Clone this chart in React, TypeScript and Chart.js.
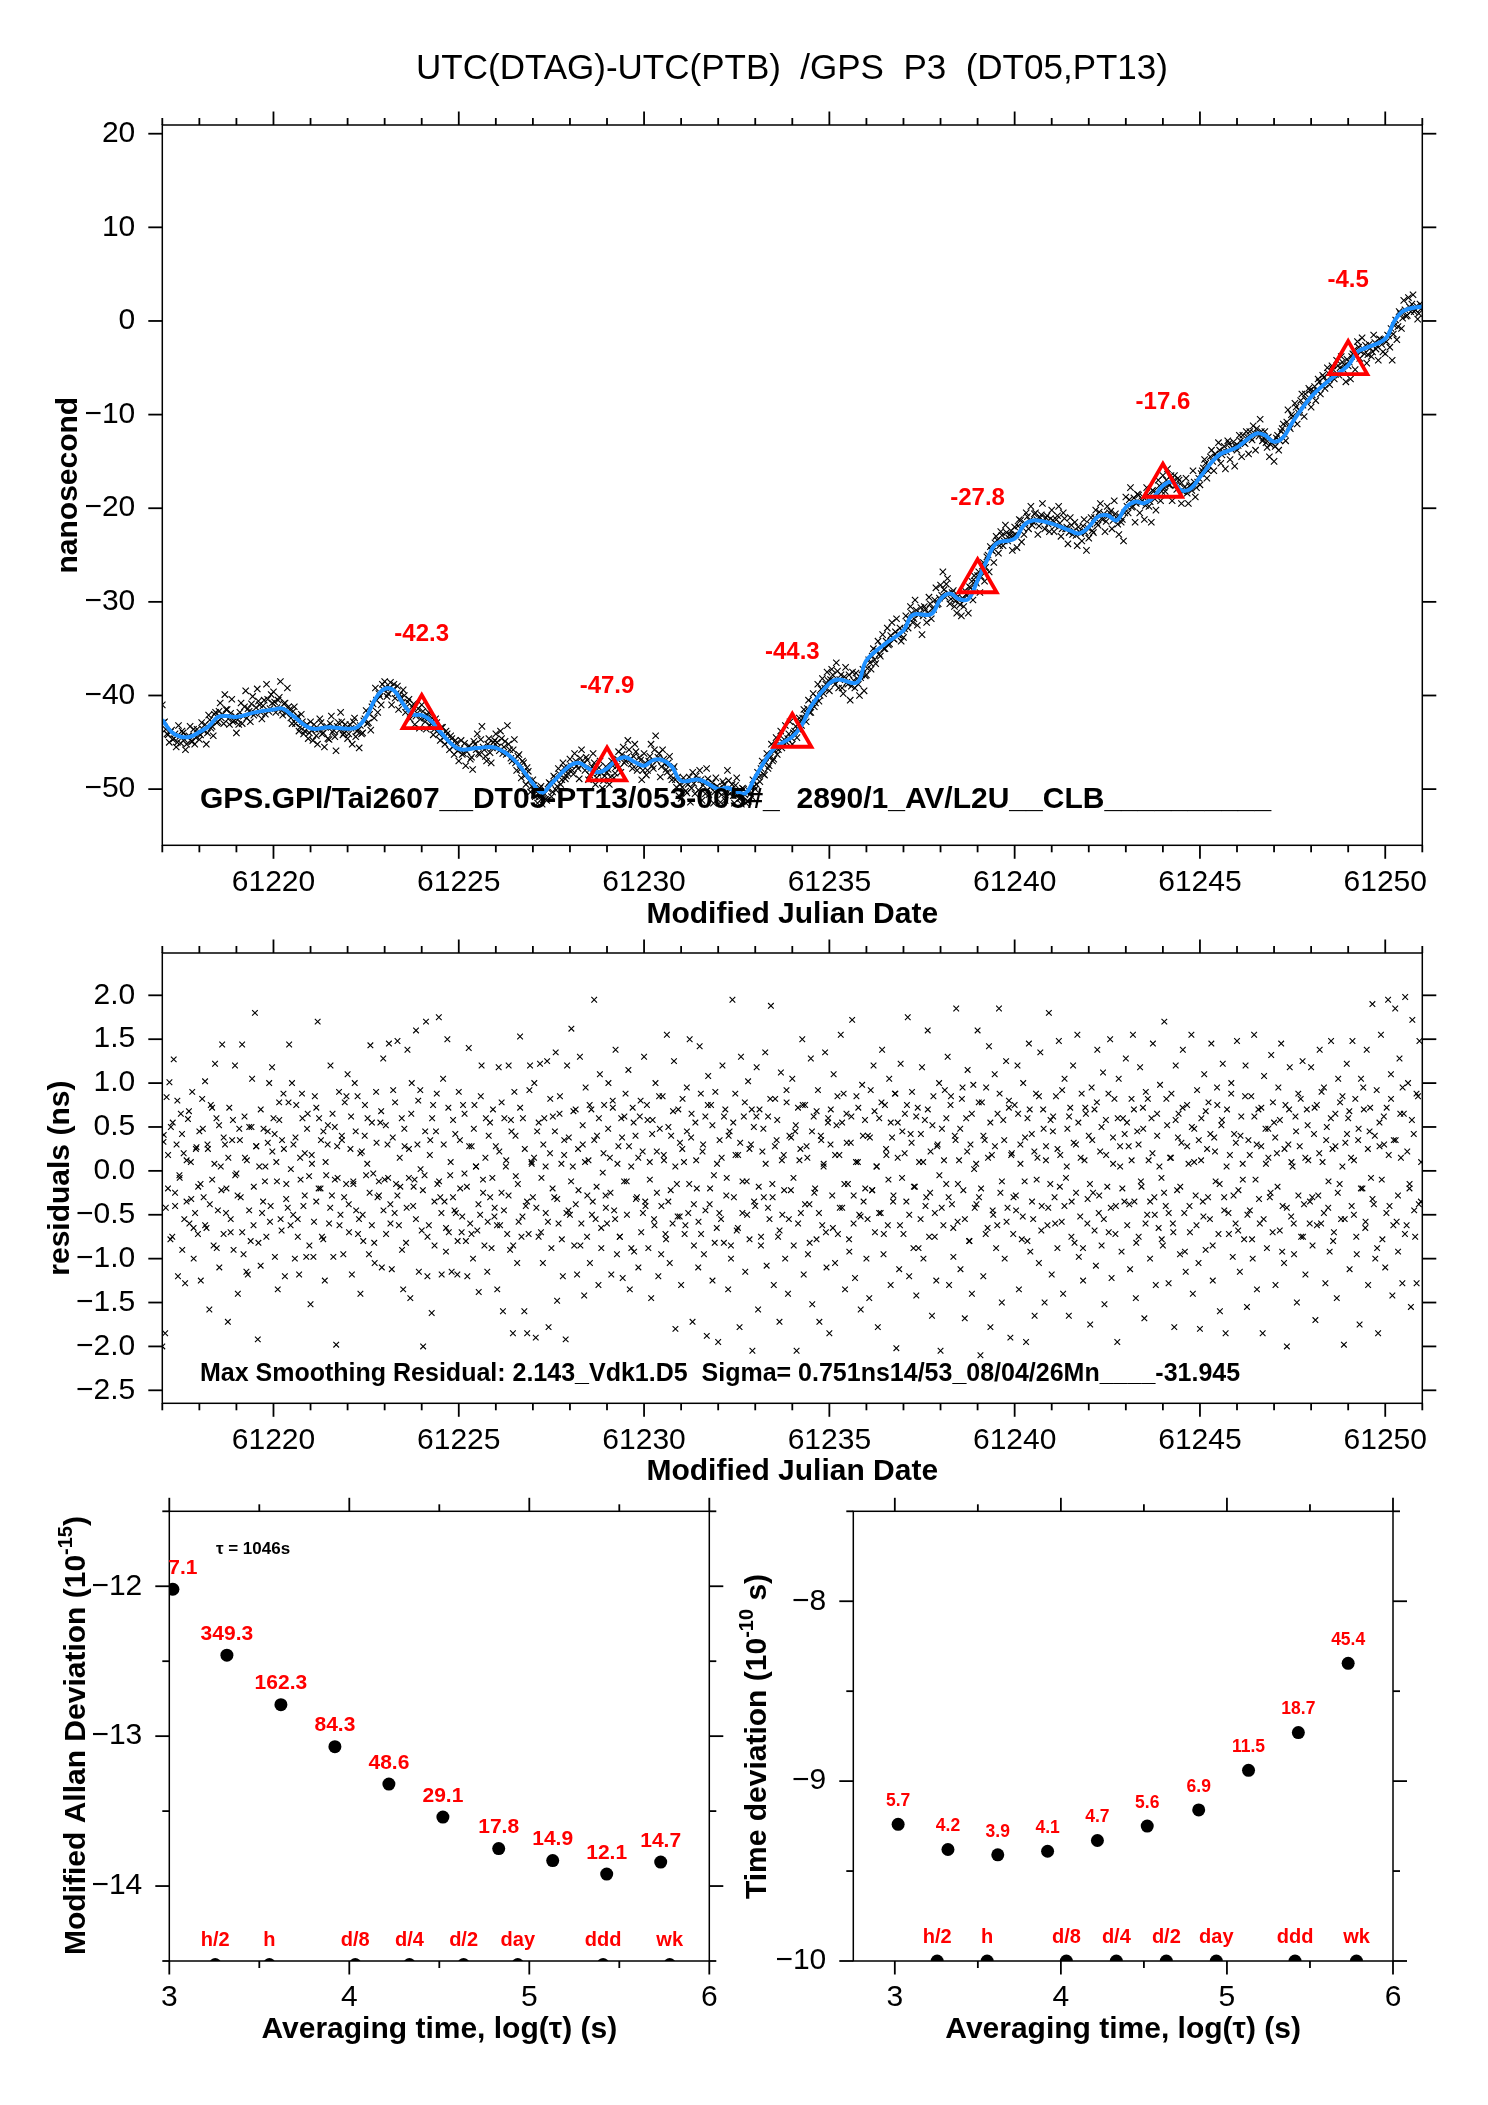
import React, { useEffect, useRef } from "react";
import { Chart, registerables } from "chart.js";
Chart.register(...registerables);

const FONT = '"Liberation Sans", Arial, sans-serif';
const RED = "#ff0000";
const BLUE = "#1e90ff";

// ---------- data ----------
const firstMjd = 61217;
const mjdMajor = [61220, 61225, 61230, 61235, 61240, 61245, 61250];
const mjdMinor = [61217, 61218, 61219, 61221, 61222, 61223, 61224, 61226, 61227, 61228, 61229, 61231, 61232, 61233, 61234, 61236, 61237, 61238, 61239, 61241, 61242, 61243, 61244, 61246, 61247, 61248, 61249, 61251];
const offsetTicks = [20, 10, 0, -10, -20, -30, -40, -50];
const residualTicks = [2, 1.5, 1, 0.5, 0, -0.5, -1, -1.5, -2, -2.5];

const smoothDay = [0, .25, .5, .75, 1, 1.25, 1.5, 1.75, 2, 2.5, 3, 3.25, 3.5, 4, 4.5, 5, 5.25, 5.5, 5.75, 6, 6.25, 6.5, 6.75, 7, 7.25, 7.5, 8, 8.5, 9, 9.5, 10, 10.25, 10.5, 11, 11.25, 11.5, 11.75, 12, 12.25, 12.5, 12.75, 13, 13.25, 13.5, 13.75, 14, 14.5, 15, 15.25, 15.5, 15.75, 16, 16.5, 17, 17.25, 17.5, 18, 18.25, 18.75, 19, 19.5, 20, 20.25, 20.75, 21, 21.25, 21.5, 21.75, 22, 22.25, 22.5, 23, 23.25, 23.5, 24, 24.5, 24.75, 25, 25.25, 25.5, 25.75, 26, 26.25, 26.5, 26.75, 27, 27.25, 27.5, 27.75, 28, 28.5, 29, 29.5, 29.75, 30, 30.25, 30.5, 31, 31.5, 32, 32.25, 32.5, 33, 33.25, 33.5, 34];
const smoothNs = [-42.6, -43.9, -44.4, -44.4, -43.9, -43.3, -42.3, -42.2, -42.3, -41.8, -41.5, -41.4, -42.1, -43.5, -43.4, -43.55, -43.4, -42.3, -40.35, -39.3, -39.45, -40.9, -42, -42.1, -42.7, -43.9, -45.7, -45.6, -45.6, -46.9, -49.4, -50.4, -49.4, -47.5, -47.2, -47.8, -48.2, -47.8, -46.9, -46.6, -47.1, -47.5, -46.9, -46.9, -47.6, -49.1, -49, -50, -49.85, -50.3, -50.4, -48.7, -45.7, -44.4, -43.2, -41.2, -38.7, -38.3, -38.6, -36.25, -34.5, -33.05, -31.4, -31.3, -29.7, -29.1, -29.7, -29.7, -27.7, -25.6, -23.8, -23.25, -21.8, -21.3, -21.65, -22.4, -22.7, -22, -20.9, -20.75, -21.3, -19.9, -19.3, -19.45, -18.8, -17.6, -17.2, -18.1, -17.9, -16.7, -14.35, -13.5, -12.05, -12.2, -12.9, -12.4, -10.8, -8.1, -6.3, -4.75, -3.3, -2.85, -1.9, 0, 1.1, 1.55];

const triangleMjd = [61224, 61229, 61234, 61239, 61244, 61249];
const triangleNs = [-42.3, -47.9, -44.3, -27.8, -17.6, -4.5];

// raw offsets in tenths of a ns, one row per day
const rawTenthNs = [
  [-410, -428, -441, -450, -437, -446, -455, -432, -451, -440, -458, -444, -433, -449, -452, -436],
  [-447, -429, -438, -452, -421, -435, -443, -418, -428, -408, -420, -399, -415, -431, -404, -427],
  [-440, -431, -408, -422, -395, -414, -428, -401, -419, -393, -410, -425, -405, -388, -417, -399],
  [-396, -418, -405, -385, -421, -408, -392, -415, -430, -412, -425, -438, -420, -441, -432, -446],
  [-428, -448, -436, -452, -425, -441, -455, -433, -447, -422, -437, -459, -429, -418, -442, -431],
  [-446, -431, -452, -424, -438, -456, -441, -427, -416, -429, -437, -409, -392, -418, -401, -388],
  [-385, -401, -392, -410, -388, -398, -415, -402, -394, -418, -407, -425, -412, -431, -419, -435],
  [-410, -424, -436, -418, -430, -442, -425, -437, -448, -434, -452, -441, -458, -446, -463, -451],
  [-470, -448, -462, -475, -455, -468, -479, -452, -441, -463, -433, -458, -470, -446, -472, -450],
  [-441, -455, -438, -462, -449, -432, -458, -470, -447, -480, -463, -488, -472, -495, -481, -503],
  [-490, -508, -515, -499, -516, -505, -512, -493, -508, -486, -501, -478, -495, -472, -489, -483],
  [-468, -480, -462, -475, -489, -458, -472, -466, -490, -478, -462, -495, -483, -470, -499, -486],
  [-482, -495, -470, -488, -476, -460, -482, -455, -470, -448, -468, -478, -452, -480, -466, -490],
  [-462, -485, -470, -452, -478, -443, -466, -487, -458, -473, -482, -465, -490, -476, -498, -507],
  [-510, -488, -502, -495, -514, -482, -505, -490, -480, -512, -493, -478, -506, -497, -515, -488],
  [-503, -514, -492, -512, -480, -505, -495, -515, -488, -510, -516, -500, -515, -513, -505, -490],
  [-500, -482, -492, -470, -485, -462, -475, -452, -468, -445, -458, -438, -450, -432, -446, -428],
  [-452, -438, -445, -424, -432, -415, -428, -405, -418, -398, -408, -388, -400, -382, -392, -375],
  [-395, -372, -385, -365, -392, -378, -398, -370, -388, -405, -375, -392, -382, -400, -378, -395],
  [-378, -362, -372, -350, -366, -342, -358, -335, -350, -328, -345, -322, -340, -318, -335, -342],
  [-338, -315, -328, -305, -322, -298, -325, -312, -335, -305, -322, -295, -318, -308, -285, -302],
  [-282, -268, -295, -275, -302, -290, -305, -312, -298, -315, -305, -292, -312, -285, -298, -278],
  [-272, -290, -262, -278, -252, -268, -245, -258, -230, -248, -225, -240, -218, -235, -228, -245],
  [-220, -242, -212, -236, -228, -205, -222, -198, -215, -205, -228, -210, -195, -222, -208, -225],
  [-202, -225, -212, -198, -230, -205, -222, -238, -210, -228, -215, -240, -225, -235, -212, -245],
  [-232, -210, -226, -202, -218, -195, -212, -225, -198, -205, -222, -192, -210, -228, -215, -235],
  [-188, -205, -178, -198, -215, -185, -205, -192, -212, -178, -198, -215, -182, -202, -170, -192],
  [-165, -182, -158, -175, -192, -165, -180, -170, -195, -182, -168, -195, -175, -160, -188, -172],
  [-175, -160, -148, -168, -155, -138, -160, -146, -130, -152, -140, -158, -128, -148, -135, -155],
  [-138, -122, -145, -130, -118, -142, -125, -112, -138, -120, -105, -128, -118, -135, -145, -130],
  [-150, -125, -138, -118, -110, -128, -95, -115, -102, -88, -110, -95, -78, -102, -85, -72],
  [-92, -75, -85, -62, -78, -58, -72, -50, -68, -48, -62, -42, -58, -38, -52, -65],
  [-48, -62, -35, -52, -22, -40, -18, -35, -45, -25, -38, -15, -30, -42, -20, -33],
  [-35, -15, -28, -42, -5, -20, 10, -8, 22, 5, 25, 10, 28, 12, 2, 18],
];
const rawTenthNsCore = [
  [-429, -436, -442, -439, -447, -441, -450, -444, -438, -447, -452, -443, -449, -436, -445, -440],
  [-442, -436, -431, -440, -426, -433, -420, -429, -417, -424, -430, -415, -425, -419, -428, -422],
  [-426, -418, -430, -412, -424, -417, -409, -421, -413, -406, -418, -411, -420, -404, -414, -408],
  [-407, -413, -402, -416, -409, -419, -412, -424, -417, -430, -422, -434, -428, -438, -431, -440],
  [-437, -431, -443, -436, -429, -440, -434, -446, -430, -439, -444, -433, -437, -428, -440, -435],
  [-441, -435, -428, -444, -437, -432, -440, -425, -430, -420, -412, -424, -405, -398, -410, -394],
  [-392, -398, -386, -394, -403, -390, -399, -408, -400, -412, -404, -418, -409, -422, -414, -425],
  [-417, -428, -421, -432, -424, -436, -429, -441, -434, -445, -438, -449, -443, -455, -448, -459],
  [-457, -463, -451, -460, -454, -466, -449, -458, -462, -447, -455, -465, -452, -461, -456, -448],
  [-450, -459, -446, -455, -463, -452, -467, -458, -472, -465, -479, -470, -486, -477, -491, -497],
  [-496, -503, -509, -497, -506, -511, -500, -494, -503, -488, -497, -484, -490, -477, -486, -479],
  [-475, -484, -470, -478, -467, -474, -480, -469, -485, -476, -472, -488, -477, -483, -491, -476],
  [-479, -487, -475, -483, -468, -477, -463, -472, -466, -458, -473, -465, -460, -475, -469, -480],
  [-472, -480, -465, -475, -458, -470, -462, -476, -468, -479, -472, -486, -478, -490, -487, -495],
  [-498, -492, -504, -487, -499, -494, -486, -501, -490, -496, -505, -489, -498, -493, -503, -497],
  [-499, -506, -495, -503, -491, -500, -507, -496, -504, -510, -499, -506, -513, -502, -508, -497],
  [-495, -487, -478, -484, -472, -478, -466, -470, -459, -463, -452, -456, -447, -450, -441, -445],
  [-440, -433, -436, -428, -424, -420, -414, -418, -408, -412, -402, -406, -393, -398, -388, -384],
  [-383, -378, -388, -374, -383, -392, -380, -386, -378, -390, -384, -376, -388, -381, -372, -379],
  [-371, -365, -358, -362, -352, -356, -347, -350, -342, -346, -336, -339, -332, -335, -328, -331],
  [-329, -322, -318, -312, -318, -309, -314, -306, -315, -308, -312, -302, -307, -298, -303, -296],
  [-293, -287, -281, -291, -297, -288, -299, -294, -303, -296, -288, -293, -284, -278, -272, -280],
  [-268, -273, -258, -263, -250, -241, -246, -237, -234, -240, -229, -235, -226, -232, -224, -229],
  [-228, -219, -213, -221, -216, -209, -213, -218, -206, -212, -219, -207, -214, -210, -217, -211],
  [-213, -219, -208, -216, -222, -211, -220, -226, -218, -224, -229, -220, -227, -219, -226, -221],
  [-217, -224, -210, -216, -204, -211, -206, -214, -208, -203, -213, -206, -217, -209, -212, -205],
  [-198, -191, -199, -189, -195, -186, -194, -188, -197, -186, -193, -181, -190, -184, -176, -182],
  [-178, -170, -175, -165, -171, -176, -168, -174, -182, -177, -184, -176, -181, -172, -178, -168],
  [-163, -157, -152, -160, -145, -150, -142, -146, -138, -143, -134, -140, -131, -137, -129, -134],
  [-133, -128, -122, -131, -124, -118, -127, -120, -115, -123, -118, -125, -130, -124, -132, -128],
  [-134, -122, -128, -115, -121, -108, -113, -100, -106, -92, -98, -85, -90, -78, -84, -74],
  [-79, -70, -74, -65, -69, -60, -64, -56, -60, -52, -57, -48, -50, -44, -47, -41],
  [-44, -38, -31, -37, -28, -33, -30, -26, -36, -29, -33, -23, -27, -19, -25, -20],
  [-22, -16, -8, -14, 1, -6, 8, 3, 12, 6, 15, 18, 10, 16, 8, 13],
];

// residuals in hundredths of a ns, one row per day
const residualCentiNs = [
  [-200, 41, -185, 84, -20, 101, 50, -75, 127, -40, 30, -120, -5, 65, -90, 20, -128, -35, 59, -60, 10, 90, -100, -48, 27, -72],
  [45, -125, 82, -30, 102, -65, 25, -158, 75, -10, -85, 122, 60, -45, -110, 5, 144, -72, 30, -20, -172, 72, -55, 35, -90, 120],
  [-3, -140, 48, -30, 144, -95, 15, -115, -118, 50, -80, 105, -62, 180, 28, -192, 5, -108, -48, 48, -12, -75, 32, 100, -40, 118],
  [60, -98, 10, -135, 78, -55, 35, 88, -120, -15, -42, 144, -62, 100, 30, -100, 75, -55, -118, -10, 88, -40, 20, -98, 65, -6],
  [-152, 8, -98, 85, -35, 170, 60, -20, -75, 45, -125, -5, 30, -60, 120, -28, -98, 50, -198, -8, 90, -50, 35, -95, 78, -15],
  [110, -70, 25, -118, -12, 100, -45, 85, -55, -140, 22, -80, 40, -5, 60, -95, 143, -62, -3, -105, 90, -30, -28, 55, -110, 128],
  [-10, -72, 30, 145, -38, -112, 92, -48, -15, 148, -62, -18, 60, -135, 28, -82, 138, -8, -145, 100, -40, -10, 160, 30, -115, 92],
  [-68, -200, -5, 170, -120, -62, 35, -162, 75, -85, 45, -15, 175, -30, -118, 105, -35, -92, 150, -70, -5, -115, 58, -45, -48, -118],
  [90, -20, -70, 75, -3, -80, -120, 140, -60, 28, -100, 75, 5, -68, -138, -50, 120, -10, -85, 60, -115, 40, -30, -88, 70, -52],
  [28, -135, 118, -62, -25, -160, 60, 5, -72, 120, -90, 45, -185, 90, -6, -105, -58, 153, -75, 60, -160, -40, -185, -72, 120, 10],
  [-30, 100, -190, 45, -75, 122, -8, -105, 60, -48, 125, -178, 20, -88, 62, -30, 135, -148, -60, 85, 8, -120, 35, -192, 120, -45],
  [-50, 162, 5, -85, 70, -118, -22, 130, -60, 30, -142, 95, -75, 12, -105, 70, -35, 195, -55, 40, -130, 110, -88, -2, 75, -28],
  [-60, 100, 15, -118, 80, -45, 138, -95, 28, -75, 60, -122, -12, 88, -50, 115, -135, 5, 72, -92, 40, -30, -110, 62, -70, 22],
  [130, -40, 75, -88, 10, -145, 58, -55, 100, -25, -120, 48, -95, 85, 12, -72, 155, -35, -105, 40, -60, 125, -180, -15, 70, -52],
  [-130, 82, 10, -62, 95, -48, 150, 38, -172, -85, 55, -20, -110, 142, -72, 22, -95, 62, -188, 108, -38, 75, -125, -5, 90, -65],
  [-195, 35, -55, 120, -82, 70, -8, -135, 45, -100, 195, -30, 88, -68, 18, -178, 130, -48, 62, -115, -12, 102, -78, 30, -205, 50],
  [-40, 118, -158, 70, -85, 22, -30, 135, -108, 62, -55, 188, -15, -130, 82, 35, -75, -172, 112, -50, 18, -100, 78, -140, 40, -22],
  [105, -85, 45, -205, 72, 12, -48, 150, -118, 75, 28, -95, -38, 128, -152, 62, -20, -78, 92, -172, 40, -62, 8, 135, -110, 55],
  [-185, 70, -28, 110, -105, 52, -72, 18, 155, -42, 88, -135, 65, -15, -92, 32, 172, -60, -122, 85, 10, -50, -158, 98, -35, 58],
  [-100, 40, -145, 92, -22, 120, -70, 5, -178, 60, -48, 138, -95, 75, 18, -62, 105, -130, 38, -28, 88, -202, 55, -112, 122, -8],
  [-72, 65, -35, 175, -120, 42, 90, -88, -18, -142, 72, 10, -55, 118, -100, 58, -30, 160, -75, 22, -165, 85, -48, -125, 30, 100],
  [-205, 48, -62, 92, -15, 130, -130, 75, -38, -98, 40, 185, -58, 12, -112, 82, -22, -168, 60, 115, -80, 30, -140, 98, -42, 8],
  [160, -30, -210, 78, -120, 35, 95, -65, 142, -178, 18, -50, 110, -88, 65, 185, -25, -150, 58, -100, 125, -42, 80, -190, 20, -72],
  [75, -45, 120, -135, 30, -78, 100, -12, -195, 60, 145, -92, 42, -55, -165, 88, 15, -105, 135, -40, 70, -150, 28, -62, 180, -15],
  [-118, 62, -30, 85, -88, 148, 18, -58, -140, 105, -8, 48, -165, 72, -35, 120, -82, 30, 155, -98, -52, 88, -125, 12, 65, -60],
  [40, -175, 95, -25, 70, -108, 138, -48, 22, -85, 112, -152, 58, -18, -70, 150, -122, 38, 82, -40, -195, 105, 5, -92, 60, -35],
  [128, -62, 28, -112, 82, 155, -35, -145, 45, -75, 118, -18, 72, -168, 90, -50, 12, -100, 60, 145, -30, -130, 40, -65, 98, -8],
  [-85, 170, -40, 52, -128, 15, 88, -60, -178, 120, -22, 65, -95, 32, 138, -48, -115, 75, 8, -70, 155, -140, 48, -28, 92, -105],
  [-180, 60, -35, 110, -90, 25, 78, -55, 145, -125, 38, -12, 95, -72, -160, 52, 122, -30, -185, 70, -48, 18, 100, -98, 42, -60],
  [148, -22, -115, 62, 8, -78, 120, -155, 35, -45, 85, -100, 155, -10, -135, 70, -60, 28, -185, 108, 48, -88, 15, -30, 132, -70],
  [55, -130, 20, 95, -68, 145, -40, -105, 75, -200, 30, 118, -52, 5, -95, 62, -150, 88, 28, -75, 125, -38, -118, 70, 12, -60],
  [118, -85, 42, -170, 75, -28, 138, -60, 10, 95, -128, 50, -42, -92, 148, 25, -70, 65, -145, 105, -15, -55, 85, -198, 32, 122],
  [60, -112, 15, 148, -50, 82, -95, 35, -175, 105, -20, 70, -65, 138, -130, 45, -8, 190, -38, -100, 92, -185, 28, 155, -78, 62],
  [-110, 72, 195, -40, 110, -142, 35, 185, -58, -92, 128, 15, -128, 65, 198, -62, 100, -20, -155, 172, 42, -75, -128, 85, 148, -35],
];
const residualCentiNsMid = [
  [33, -42, 18, -78, 55, -25, 80, -8, 42, -55, 12, 68, -32, -65, 25, -18],
  [-15, 48, -62, 30, -38, 72, 8, -88, 52, -22, 38, -48, 15, -70, 58, -5],
  [-28, 35, -70, 62, 12, -45, 50, -18, 28, -82, 70, -35, 5, 45, -58, 22],
  [42, -12, 58, -68, 25, -32, 78, 2, -50, 38, -75, 15, 60, -28, 48, -85],
  [18, -58, 72, -20, 35, -78, 10, 52, -42, 65, -10, 28, -62, 40, -30, 85],
  [-38, 62, -15, 45, -72, 20, -50, 75, 8, -25, 55, -82, 32, -12, 68, -45],
  [52, -8, -60, 38, 78, -28, 15, -90, 48, -42, 25, 65, -18, -55, 80, 2],
  [-22, 45, -75, 18, 60, -35, 88, -12, -48, 30, -65, 72, 10, -30, 42, -80],
  [35, -52, 65, -18, 28, -72, 48, 5, -38, 85, -25, 15, -58, 55, -8, -42],
  [-62, 22, 78, -45, 12, -28, 58, -85, 40, -15, 72, -52, 25, -35, 92, 8],
  [15, -42, 55, -70, 30, 5, -58, 82, -20, 45, -32, 65, -78, 18, -48, 38],
  [-12, 68, -38, 25, -85, 52, 10, -28, 75, -50, 35, -18, 60, -65, 20, -42],
  [48, -25, 72, -55, 8, -75, 38, 62, -12, 28, -88, 55, -32, 15, 80, -48],
  [-35, 58, -10, 42, -62, 22, 85, -40, 18, -78, 50, -22, 68, 5, -52, 32],
  [25, -72, 45, -15, 65, -38, 12, -58, 88, 30, -45, 75, -20, 52, -82, 8],
  [-48, 15, 62, -28, 40, -85, 55, 18, -65, 32, -12, 78, -50, 25, 70, -35],
  [62, -18, -75, 48, 8, -42, 82, -30, 28, 58, -68, 12, -22, 92, -55, 38],
  [-8, 52, -60, 25, 75, -38, 15, -82, 45, -25, 68, -48, 35, 5, -70, 60],
  [30, -65, 18, 85, -42, 55, -15, 32, -78, 62, -28, 10, 72, -52, 40, -20],
  [-55, 38, -22, 68, 5, -48, 78, -72, 25, -10, 55, -35, 88, 15, -62, 45],
  [20, 75, -50, 32, -18, 62, -88, 42, 10, -40, 70, -25, 52, -75, 28, -5],
  [-42, 12, 60, -30, 85, -65, 35, -15, 48, 95, -55, 22, -80, 65, 2, -38],
  [78, -20, 40, -72, 15, 55, -45, 28, -62, 88, -12, 35, -58, 72, 18, -30],
  [-28, 65, 8, -52, 38, -80, 70, -35, 22, -10, 85, -68, 48, 12, -42, 58],
  [45, -60, 25, -18, 92, -40, 5, 62, -75, 32, -25, 55, 15, -88, 72, -32],
  [-15, 35, -68, 78, -28, 50, -55, 18, 88, -42, 8, -72, 60, 28, -20, 42],
  [55, -38, 12, 70, -82, 30, -12, 48, -60, 82, -35, 20, -50, 65, 5, -78],
  [-25, 82, -48, 15, -70, 58, 38, -18, 72, -92, 28, -40, 50, 10, -62, 35],
  [12, -52, 68, -30, 42, -85, 22, 75, -15, 58, -45, 5, -72, 88, -28, 32],
  [-68, 40, -10, 85, -50, 18, -78, 62, 30, -32, 72, -55, 8, 48, -25, 78],
  [38, -18, 58, -92, 25, -42, 70, 10, -60, 45, -28, 82, -75, 15, 52, -35],
  [-30, 72, -62, 20, 90, -48, 35, -12, 60, -80, 28, -25, 78, 5, -55, 42],
  [68, -40, 12, -75, 48, -20, 95, -58, 25, 72, -32, 40, -88, 55, -10, 30],
  [-48, 18, 82, -62, 35, -28, 65, 95, -72, 22, -15, 58, -45, 88, -38, 10],
];

// stability panels
const tauLog = [3.02, 3.32, 3.62, 3.92, 4.22, 4.52, 4.83, 5.13, 5.43, 5.73];
const adevLog = [-12.02, -12.46, -12.79, -13.07, -13.32, -13.54, -13.75, -13.83, -13.92, -13.84];
const adevLabels = ["7.1", "349.3", "162.3", "84.3", "48.6", "29.1", "17.8", "14.9", "12.1", "14.7"];
const tdevLog = [-9.24, -9.38, -9.41, -9.39, -9.33, -9.25, -9.16, -8.94, -8.73, -8.345];
const tdevLabels = ["5.7", "4.2", "3.9", "4.1", "4.7", "5.6", "6.9", "11.5", "18.7", "45.4"];
const markerLog = [3.255, 3.556, 4.033, 4.334, 4.635, 4.936, 5.41, 5.78];
const markerLabels = ["h/2", "h", "d/8", "d/4", "d/2", "day", "ddd", "wk"];
const tauMajor = [3, 4, 5, 6];
const tauMinor = [3.5, 4.5, 5.5];
const adevMajor = [-12, -13, -14];
const adevMinor = [-11.5, -12.5, -13.5, -14.5];
const tdevMajor = [-8, -9, -10];
const tdevMinor = [-7.5, -8.5, -9.5];

const titleText = "UTC(DTAG)-UTC(PTB)  /GPS  P3  (DT05,PT13)";
const gpsText = "GPS.GPI/Tai2607__DT05-PT13/053-005#_  2890/1_AV/L2U__CLB__________";
const maxText = "Max Smoothing Residual: 2.143_Vdk1.D5  Sigma= 0.751ns14/53_08/04/26Mn____-31.945";

// ---------- helpers ----------
const rowsToPoints = (rows: number[][], unit: number, phase = 0) =>
  rows.flatMap((row, day) => row.map((v, i) => ({ x: firstMjd + day + (i + phase) / row.length, y: v * unit })));
const zip = (xs: number[], ys: number[]) => xs.map((x, i) => ({ x, y: ys[i] }));
const minusLabel = (digits: number) => (v: any) => (Number(v) < 0 ? "\u2212" : "") + Math.abs(Number(v)).toFixed(digits);

function frameTicks(ctx: any, chart: any, s: any) {
  const { left, right, top, bottom } = chart.chartArea;
  const X = chart.scales.x, Y = chart.scales.y;
  ctx.save();
  ctx.strokeStyle = "#000";
  ctx.lineWidth = 1.5;
  ctx.strokeRect(left, top, right - left, bottom - top);
  const mark = (x0: number, y0: number, x1: number, y1: number, w: number) => {
    ctx.lineWidth = w;
    ctx.beginPath(); ctx.moveTo(x0, y0); ctx.lineTo(x1, y1); ctx.stroke();
  };
  const xt = (vals: number[], len: number) => vals.forEach((v) => {
    const p = X.getPixelForValue(v);
    mark(p, top, p, top - len, 1.8); mark(p, bottom, p, bottom + len, 1.8);
  });
  const yt = (vals: number[], len: number) => vals.forEach((v) => {
    const p = Y.getPixelForValue(v);
    mark(left, p, left - len, p, 1.8); mark(right, p, right + len, p, 1.8);
  });
  xt(s.xMajor, 13.5); xt(s.xMinor, 7); yt(s.yMajor, 14); yt(s.yMinor, 7);
  ctx.restore();
}

function text(ctx: any, str: string, x: number, y: number, font: string, color = "#000", align = "center", base = "alphabetic") {
  ctx.save();
  ctx.font = font; ctx.fillStyle = color; ctx.textAlign = align; ctx.textBaseline = base;
  ctx.fillText(str, x, y);
  ctx.restore();
}

function rotatedTitle(ctx: any, cx: number, cy: number, before: string, sup: string, after: string) {
  ctx.save();
  ctx.translate(cx, cy);
  ctx.rotate(-Math.PI / 2);
  ctx.fillStyle = "#000";
  ctx.textAlign = "left";
  const b = `bold 30px ${FONT}`, n = `bold 20px ${FONT}`;
  ctx.font = b; const w1 = ctx.measureText(before).width, w3 = ctx.measureText(after).width;
  ctx.font = n; const w2 = ctx.measureText(sup).width;
  let x = -(w1 + w2 + w3) / 2;
  ctx.font = b; ctx.fillText(before, x, 0); x += w1;
  ctx.font = n; ctx.fillText(sup, x, -13); x += w2;
  ctx.font = b; ctx.fillText(after, x, 0);
  ctx.restore();
}

const noPadding = (s: any) => { s.paddingTop = 0; s.paddingBottom = 0; s.paddingLeft = 0; s.paddingRight = 0; };

function build(canvas: HTMLCanvasElement, c: any) {
  const W = 1488, H = c.height;
  const a = { l: c.area[0], r: c.area[1], t: c.area[2] - c.top, b: c.area[3] - c.top };
  const xH = c.titleCenterY - c.area[3] + 15;
  const tickFont = { family: FONT, size: 30, lineHeight: 1 };
  const titleFont = { family: FONT, size: 30, weight: "bold", lineHeight: 1 };
  const padLeft = c.yTitle ? c.yTitleX - 15 : 0;
  return new Chart(canvas, {
    type: "scatter",
    data: { datasets: c.datasets },
    plugins: [{ id: "marks", afterDatasetsDraw(chart: any) { frameTicks(chart.ctx, chart, c); c.draw && c.draw(chart.ctx, chart); } }],
    options: {
      animation: false,
      responsive: false,
      devicePixelRatio: 1,
      layout: { padding: { top: a.t, left: padLeft, right: W - a.r, bottom: H - a.b - xH } },
      plugins: { legend: { display: false }, tooltip: { enabled: false } },
      scales: {
        x: {
          type: "linear", min: c.xRange[0], max: c.xRange[1],
          grid: { display: false, drawTicks: false }, border: { display: false },
          afterBuildTicks: (s: any) => { s.ticks = c.xMajor.map((v: number) => ({ value: v })); },
          afterFit: (s: any) => { s.height = xH; noPadding(s); },
          ticks: { autoSkip: false, maxRotation: 0, minRotation: 0, padding: 22, color: "#000", font: tickFont, callback: (v: any) => String(v) },
          title: { display: true, text: c.xTitle, color: "#000", font: titleFont, padding: 0 },
        },
        y: {
          type: "linear", min: c.yRange[0], max: c.yRange[1],
          grid: { display: false, drawTicks: false }, border: { display: false },
          afterBuildTicks: (s: any) => { s.ticks = c.yMajor.map((v: number) => ({ value: v })); },
          afterFit: (s: any) => { s.width = a.l - padLeft; noPadding(s); },
          ticks: { autoSkip: false, padding: 27, color: "#000", font: tickFont, callback: minusLabel(c.yDigits) },
          title: c.yTitle ? { display: true, text: c.yTitle, color: "#000", font: titleFont, padding: 0 } : { display: false },
        },
      },
    },
  } as any);
}

const crossSet = (data: any[], r = 4) => ({
  data, pointStyle: "crossRot", pointRadius: r, pointBorderWidth: 1.1, pointBorderColor: "#000", pointBackgroundColor: "#000", showLine: false,
});
const dotSet = (data: any[], r = 6.5, clip?: number) => ({
  data, pointStyle: "circle", pointRadius: r, pointBackgroundColor: "#000", pointBorderColor: "#000", pointBorderWidth: 0, showLine: false, ...(clip === undefined ? {} : { clip }),
});

export default function App() {
  const r1 = useRef<HTMLCanvasElement>(null);
  const r2 = useRef<HTMLCanvasElement>(null);
  const r3 = useRef<HTMLCanvasElement>(null);
  const r4 = useRef<HTMLCanvasElement>(null);

  useEffect(() => {
    const mjd = { xMajor: mjdMajor, xMinor: mjdMinor, xRange: [61217, 61251], xTitle: "Modified Julian Date" };
    const tau = { xMajor: tauMajor, xMinor: tauMinor, xTitle: "Averaging time, log(\u03c4) (s)" };
    const labelled = (ctx: any, chart: any, ys: number[], labels: string[], dy: number, size: number, firstDx: number, markY: number) => {
      const X = chart.scales.x, Y = chart.scales.y;
      labels.forEach((l, i) => text(ctx, l, X.getPixelForValue(tauLog[i]) + (i === 0 ? firstDx : 0), Y.getPixelForValue(ys[i]) + dy, `bold ${size}px ${FONT}`, RED, "center", "middle"));
      markerLabels.forEach((l, i) => text(ctx, l, X.getPixelForValue(markerLog[i]), chart.chartArea.bottom + markY, `bold 20px ${FONT}`, RED, "center", "middle"));
    };
    const charts = [
      build(r1.current!, {
        ...mjd, top: 0, height: 940, area: [162.3, 1422.3, 125, 845.3], titleCenterY: 915,
        yRange: [-56, 20.93], yMajor: offsetTicks, yMinor: [], yDigits: 0, yTitle: "nanosecond", yTitleX: 68.5,
        datasets: [
          { data: zip(triangleMjd, triangleNs), pointStyle: "triangle", pointRadius: 22, pointBorderWidth: 3.8, pointBorderColor: RED, pointBackgroundColor: "rgba(0,0,0,0)", showLine: false, clip: false },
          { data: zip(smoothDay.map((d) => firstMjd + d), smoothNs), showLine: true, borderColor: BLUE, borderWidth: 4, pointRadius: 0, tension: 0.4 },
          crossSet(rowsToPoints(rawTenthNs, 0.1), 4.5),
          crossSet(rowsToPoints(rawTenthNsCore, 0.1, 0.5), 4.5),
        ],
        draw: (ctx: any, ch: any) => {
          text(ctx, titleText, 792, 78.5, `35px ${FONT}`);
          text(ctx, gpsText, 200, 808, `bold 30px ${FONT}`, "#000", "left");
          triangleMjd.forEach((m, i) => text(ctx, triangleNs[i].toFixed(1), ch.scales.x.getPixelForValue(m), ch.scales.y.getPixelForValue(triangleNs[i]) - 83, `bold 24px ${FONT}`, RED, "center", "middle"));
        },
      }),
      build(r2.current!, {
        ...mjd, top: 930, height: 590, area: [162.3, 1422.3, 953, 1403.3], titleCenterY: 1472,
        yRange: [-2.648, 2.482], yMajor: residualTicks, yMinor: [], yDigits: 1, yTitle: "residuals (ns)", yTitleX: 61,
        datasets: [crossSet(rowsToPoints(residualCentiNs, 0.01)), crossSet(rowsToPoints(residualCentiNsMid, 0.01, 0.5))],
        draw: (ctx: any) => text(ctx, maxText, 200, 1381 - 930, `bold 25px ${FONT}`, "#000", "left"),
      }),
      build(r3.current!, {
        ...tau, top: 1490, height: 615, area: [169.3, 709.3, 1511.3, 1961], titleCenterY: 2030,
        xRange: [3, 6], yRange: [-14.5, -11.5], yMajor: adevMajor, yMinor: adevMinor, yDigits: 0,
        datasets: [dotSet(zip(tauLog, adevLog)), dotSet(zip(markerLog, markerLog.map(() => -14.52)), 6, 0)],
        draw: (ctx: any, ch: any) => {
          labelled(ctx, ch, adevLog, adevLabels, -21, 21, 10, -21);
          text(ctx, "\u03c4 = 1046s", 253, 1549 - 1490, `bold 17px ${FONT}`, "#000", "center", "middle");
          rotatedTitle(ctx, 84.5, 1735.5 - 1490, "Modified Allan Deviation (10", "-15", ")");
        },
      }),
      build(r4.current!, {
        ...tau, top: 1490, height: 615, area: [853.3, 1393, 1511.3, 1961], titleCenterY: 2030,
        xRange: [2.75, 6], yRange: [-10, -7.5], yMajor: tdevMajor, yMinor: tdevMinor, yDigits: 0,
        datasets: [dotSet(zip(tauLog, tdevLog)), dotSet(zip(markerLog, markerLog.map(() => -10)), 6.5, 0)],
        draw: (ctx: any, ch: any) => {
          labelled(ctx, ch, tdevLog, tdevLabels, -23, 17.5, 0, -24);
          rotatedTitle(ctx, 765.7, 1736.5 - 1490, "Time deviation (10", "-10", " s)");
        },
      }),
    ];
    return () => charts.forEach((c) => c.destroy());
  }, []);

  const st = (top: number): React.CSSProperties => ({ position: "absolute", left: 0, top, display: "block" });
  return (
    <div style={{ position: "absolute", left: 0, top: 0, width: 1488, height: 2105, overflow: "hidden", background: "#fff" }}>
      <canvas ref={r1} width={1488} height={940} style={st(0)} />
      <canvas ref={r2} width={1488} height={590} style={st(930)} />
      <canvas ref={r3} width={1488} height={615} style={st(1490)} />
      <canvas ref={r4} width={1488} height={615} style={st(1490)} />
    </div>
  );
}
